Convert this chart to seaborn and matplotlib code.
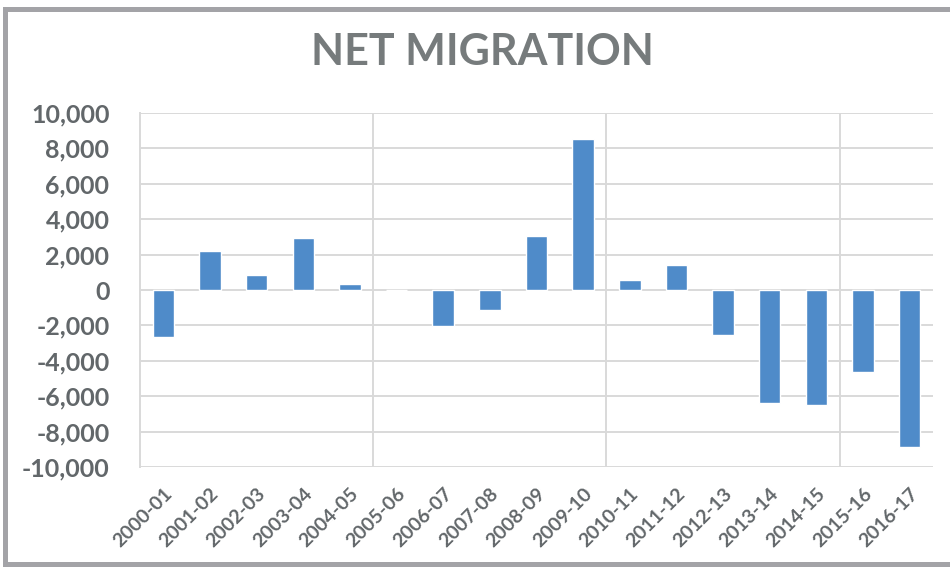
import matplotlib
matplotlib.use('Agg')
import matplotlib.pyplot as plt
from matplotlib.patches import Rectangle
from matplotlib.ticker import FuncFormatter
import seaborn as sns
import pandas as pd

# net migration by financial year
seasons = ['2000-01', '2001-02', '2002-03', '2003-04', '2004-05', '2005-06',
           '2006-07', '2007-08', '2008-09', '2009-10', '2010-11', '2011-12',
           '2012-13', '2013-14', '2014-15', '2015-16', '2016-17']
net = [-2640, 2220, 860, 2940, 360, 20,
       -2050, -1110, 3050, 8510, 560, 1400,
       -2560, -6380, -6480, -4630, -8850]
y_ticks = list(range(-10000, 10001, 2000))

BAR_COLOR = '#4f8bc9'
GRID_COLOR = '#d9d9d9'
TEXT_COLOR = '#62676a'
TITLE_COLOR = '#767b7c'
FRAME_COLOR = '#a3a3a7'

sns.set_style('white')
plt.rcParams['font.family'] = ['Lato', 'DejaVu Sans']

df = pd.DataFrame({'season': seasons, 'net': net})

fig = plt.figure(figsize=(9.5, 5.67), dpi=100)
ax = fig.add_axes([140 / 950, 1 - 467 / 567, (933 - 140) / 950, (467 - 113) / 567])

sns.barplot(data=df, x='season', y='net', order=seasons, color=BAR_COLOR,
            width=0.46, saturation=1, ax=ax, zorder=3)

ax.set_ylim(-10000, 10000)
ax.set_xlim(-0.5, len(seasons) - 0.5)
ax.set_yticks(y_ticks)
ax.yaxis.set_major_formatter(FuncFormatter(lambda v, p: f'{int(v):,}'))
for y in y_ticks:
    ax.axhline(y, color=GRID_COLOR, lw=1.4, zorder=1)
# odd vertical lines every five categories, as in the source
for x in [4.5, 9.5, 14.5]:
    ax.axvline(x, color=GRID_COLOR, lw=1.4, zorder=1)

for side in ['top', 'right', 'bottom']:
    ax.spines[side].set_visible(False)
ax.spines['left'].set_color(GRID_COLOR)
ax.spines['left'].set_linewidth(1.4)

ax.set_xlabel('')
ax.set_ylabel('')
ax.tick_params(axis='y', length=0, pad=22, labelsize=18, labelcolor=TEXT_COLOR)
ax.tick_params(axis='x', length=0, pad=13, labelsize=14, labelcolor=TEXT_COLOR)
for lbl in ax.get_yticklabels():
    lbl.set_fontweight('bold')
for lbl in ax.get_xticklabels():
    lbl.set_fontweight('bold')
    lbl.set_rotation(45)
    lbl.set_ha('right')
    lbl.set_rotation_mode('anchor')

fig.text(482 / 950, 1 - 52 / 567, 'NET MIGRATION', ha='center', va='center',
         fontsize=31, fontweight='bold', color=TITLE_COLOR)

# grey frame on left, top and bottom
fig.add_artist(Rectangle((3 / 950, 0), 5 / 950, 1 - 7 / 567, transform=fig.transFigure,
                         color=FRAME_COLOR, lw=0))
fig.add_artist(Rectangle((3 / 950, 1 - 12 / 567), 1, 5 / 567, transform=fig.transFigure,
                         color=FRAME_COLOR, lw=0))
fig.add_artist(Rectangle((3 / 950, 0), 1, 5 / 567, transform=fig.transFigure,
                         color=FRAME_COLOR, lw=0))

fig.savefig('out.png', dpi=100)
